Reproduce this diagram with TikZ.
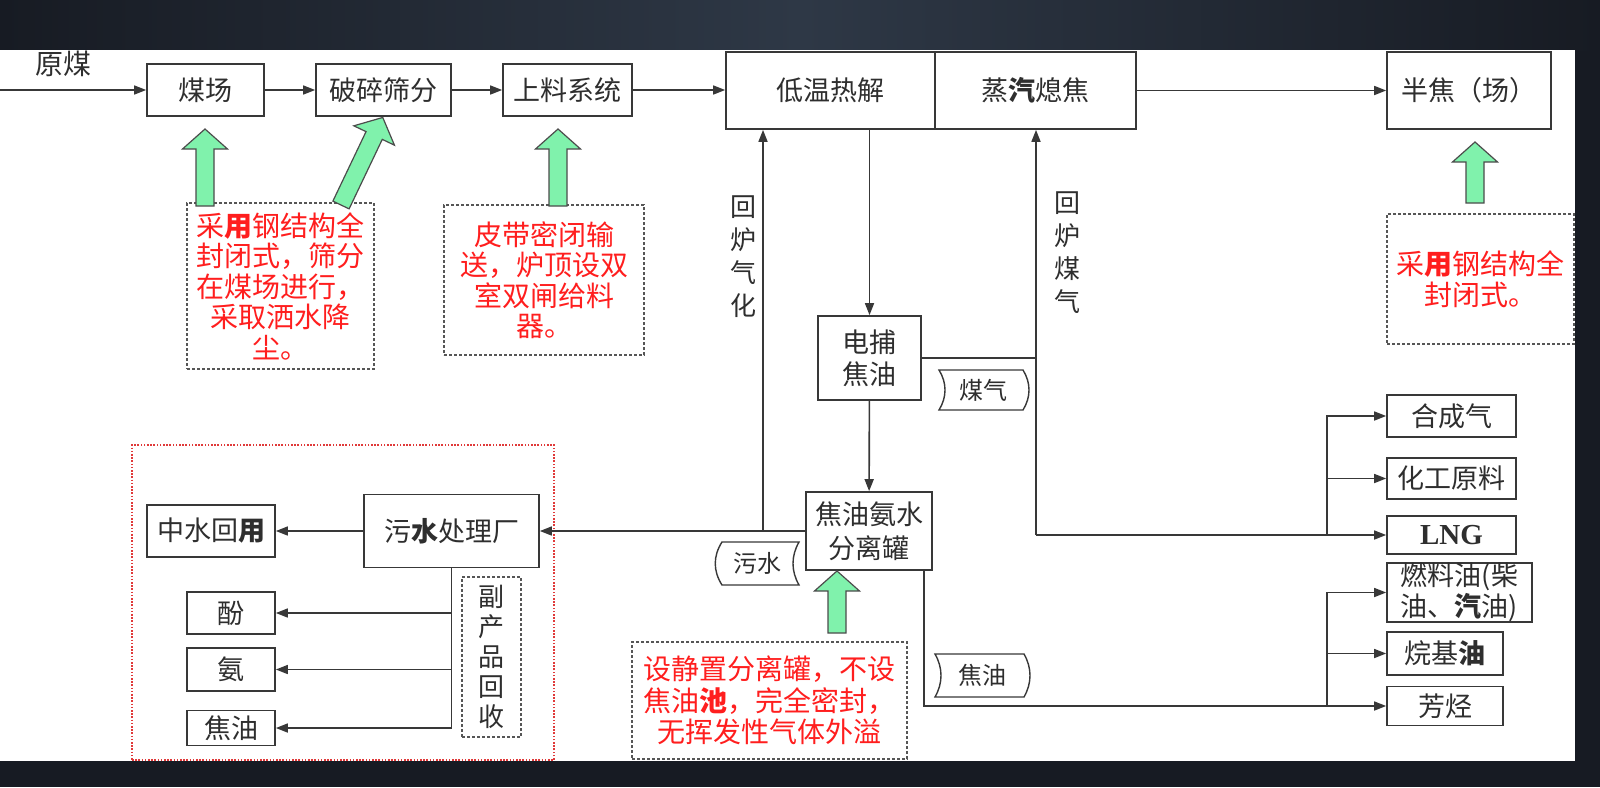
\documentclass[tikz,border=0pt]{standalone}
\usepackage{fontspec}
\setmainfont{Noto Sans CJK SC}
\newfontfamily\lngfont{Liberation Serif}
\usetikzlibrary{arrows.meta}
\definecolor{ln}{HTML}{383838}
\definecolor{tx}{HTML}{2E2E2E}
\definecolor{rd}{HTML}{FF1E1E}
\definecolor{gr}{RGB}{128,242,172}
\definecolor{bgd}{HTML}{171B23}
\definecolor{bgl}{HTML}{2E3846}
\definecolor{dotred}{HTML}{E03A3A}
\begin{document}
\begin{tikzpicture}[x=1pt,y=-1pt,
  box/.style={draw=ln,line width=1.7pt,fill=white,inner sep=0pt,text=tx,font=\fontsize{27}{32}\selectfont,align=center},
  conn/.style={draw=ln,line width=1.6pt,-{Triangle[length=12pt,width=9pt]}},
  plain/.style={draw=ln,line width=1.6pt},
  note/.style={draw=ln!85,line width=1.2pt,dash pattern=on 3pt off 2pt,inner sep=0pt,text=rd,font=\fontsize{28}{30.5}\selectfont,align=center},
  tag/.style={draw=ln,line width=1.4pt},
  tagtext/.style={text=tx,font=\fontsize{24}{28}\selectfont,inner sep=0pt},
  vlabel/.style={text=tx,font=\fontsize{26}{33}\selectfont,align=center,inner sep=0pt},
  pics/garrow/.style={code={\filldraw[fill=gr,draw=ln!90,line width=1.2pt] (-9,0) -- (-9,-#1+20) -- (-22.5,-#1+20) -- (0,-#1) -- (22.5,-#1+20) -- (9,-#1+20) -- (9,0) -- cycle;}}
]
\useasboundingbox (0,0) rectangle (1600,787);
% background frame
\fill[bgd] (0,0) rectangle (1600,787);
\shade[left color=bgd,right color=bgd,middle color=bgl] (0,0) rectangle (1600,50);
\fill[white] (0,50) rectangle (1575,761);

% big red dotted area
\node[draw=dotred,line width=1.5pt,dash pattern=on 1.6pt off 1.6pt,minimum width=422,minimum height=315,inner sep=0pt] (area) at (343,602.5) {};

% dashed note boxes
\node[note,minimum width=187,minimum height=166] (d1) at (280.5,286) {采{\bfseries 用}钢结构全\\封闭式，筛分\\在煤场进行，\\采取洒水降\\尘。};
\node[note,minimum width=200,minimum height=150] (d2) at (544,280) {皮带密闭输\\送，炉顶设双\\室双闸给料\\器。};
\node[note,minimum width=187,minimum height=130] (d3) at (1480.5,279) {采{\bfseries 用}钢结构全\\封闭式。};
\node[note,minimum width=275,minimum height=117,font=\fontsize{28}{31.5}\selectfont] (d4) at (769.5,700.5) {设静置分离罐，不设\\焦油{\bfseries 池}，完全密封，\\无挥发性气体外溢};
\node[note,text=tx,minimum width=59,minimum height=160,font=\fontsize{26}{30}\selectfont] (fcp) at (491.5,657) {副\\产\\品\\回\\收};

% top row
\node[text=tx,font=\fontsize{28}{30}\selectfont,inner sep=0pt] (ym) at (63.5,64) {原煤};
\coordinate (start) at (0,90);
\node[box,minimum width=117,minimum height=52] (mc) at (205.5,90) {煤场};
\node[box,minimum width=135,minimum height=52] (ps) at (383.5,90) {破碎筛分};
\node[box,minimum width=129,minimum height=52] (sl) at (567.5,90) {上料系统};
\node[box,minimum width=209,minimum height=77] (dw) at (830.5,90.5) {低温热解};
\node[box,minimum width=201,minimum height=77] (zq) at (1035.5,90.5) {蒸{\bfseries 汽}熄焦};
\node[box,minimum width=164,minimum height=77] (bj) at (1469,90.5) {半焦（场）};

% middle
\node[box,minimum width=103,minimum height=84] (db) at (869.5,358) {电捕\\焦油};
\node[box,minimum width=126,minimum height=78,font=\fontsize{27}{34}\selectfont] (jy) at (869,531) {焦油氨水\\分离罐};

% left lower
\node[box,minimum width=175,minimum height=73] (ws) at (451.5,531) {污{\bfseries 水}处理厂};
\node[box,minimum width=128,minimum height=52] (zs) at (211,531) {中水回{\bfseries 用}};
\node[box,minimum width=88,minimum height=42] (fen) at (231,613) {酚};
\node[box,minimum width=88,minimum height=43] (an) at (231,669.5) {氨};
\node[box,minimum width=88,minimum height=35] (jyb) at (231,728) {焦油};

% right column
\node[box,minimum width=129,minimum height=42] (hc) at (1451.5,416) {合成气};
\node[box,minimum width=129,minimum height=41] (hg) at (1451.5,478.5) {化工原料};
\node[box,minimum width=129,minimum height=38] (lng) at (1451.5,535) {\lngfont\fontsize{29}{30}\selectfont\bfseries LNG};
\node[box,minimum width=145,minimum height=59,font=\fontsize{27}{31}\selectfont] (rl) at (1459.5,592.5) {燃料油(柴\\油、{\bfseries 汽}油)};
\node[box,minimum width=116,minimum height=43] (wj) at (1445,653.5) {烷基{\bfseries 油}};
\node[box,minimum width=116,minimum height=39] (ft) at (1445,706) {芳烃};

% vertical labels
\node[vlabel] (hlqh) at (743,257) {回\\炉\\气\\化};
\node[vlabel] (hlmq) at (1067,253) {回\\炉\\煤\\气};

% connectors top row
\draw[conn] (start) -- (mc.west);
\draw[conn] (mc) -- (ps);
\draw[conn] (ps) -- (sl);
\draw[conn] (sl.east) -- (sl.east -| dw.west);
\draw[conn] (zq.east |- bj.west) -- (bj.west);

% down the middle
\draw[conn] (dw.south -| db.north) -- (db.north);
\draw[conn] (db) -- (jy);

% return gas to pyrolysis
\coordinate (j1) at (763,531);
\draw[conn] (jy) -- (ws);
\draw[conn] (j1) -- (j1 |- dw.south);

% gas line
\coordinate (j2) at (1036,358);
\coordinate (j3) at (1036,535);
\draw[plain] (db.east) -- (j2);
\draw[conn] (j3) -- (j3 |- zq.south);
\draw[conn] (j3) -- (lng);
\coordinate (b1) at (1327,535);
\draw[conn] (b1) |- (hc);
\draw[conn] (b1) |- (hg);

% tar line
\coordinate (j4) at (924,706);
\draw[conn] (jy.south -| j4) |- (ft);
\coordinate (b2) at (1327,706);
\draw[conn] (b2) |- (rl);
\draw[conn] (b2) |- (wj);

% by-products
\draw[conn] (ws) -- (zs);
\draw[plain] (ws.south) -- (ws.south |- jyb);
\draw[conn] (ws.south |- fen) -- (fen);
\draw[conn] (ws.south |- an) -- (an);
\draw[conn] (ws.south |- jyb) -- (jyb);

% tags
\node[tagtext] (tmq) at (983,390) {煤气};
\draw[tag] (939,370) -- (1023,370) .. controls (1031,383) and (1031,397) .. (1023,410) -- (939,410) .. controls (947,397) and (947,383) .. (939,370) -- cycle;
\node[tagtext] (tws) at (757,563.5) {污水};
\draw[tag] (722,542) -- (799,542) .. controls (791,556) and (791,571) .. (799,585) -- (722,585) .. controls (713,571) and (713,556) .. (722,542) -- cycle;
\node[tagtext] (tjy) at (982,675.5) {焦油};
\draw[tag] (935,654) -- (1024,654) .. controls (1032,668) and (1032,683) .. (1024,697) -- (935,697) .. controls (943,683) and (943,668) .. (935,654) -- cycle;

% green arrows
\pic at (205,206) {garrow=77};
\pic[rotate=-25.5] at (341,205) {garrow=97};
\pic at (558,206) {garrow=77};
\pic at (1475,203) {garrow=61};
\pic at (837,633) {garrow=62};
\end{tikzpicture}
\end{document}
